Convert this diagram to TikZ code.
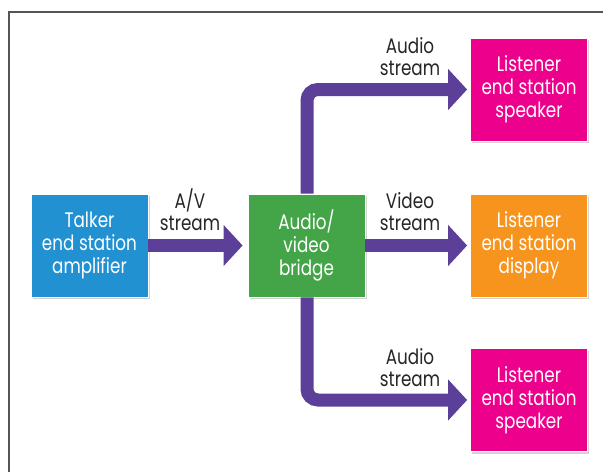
\documentclass[tikz,border=0pt]{standalone}
\usepackage{fontspec}
\setmainfont{Poppins}[FakeStretch=0.8]
\usetikzlibrary{arrows.meta,shadows}
\definecolor{cblue}{HTML}{2191D1}
\definecolor{cgreen}{HTML}{43A547}
\definecolor{corange}{HTML}{F7941D}
\definecolor{cmag}{HTML}{EC008C}
\definecolor{cpurple}{HTML}{5B3F98}
\definecolor{cframe}{HTML}{555555}
\begin{document}
\begin{tikzpicture}[x=1pt,y=-1pt,
  box/.style={draw=white,line width=0.8pt,text=white,align=center,
    minimum width=117pt,minimum height=103pt,inner sep=0pt,
    font=\fontsize{21}{23}\selectfont,
    drop shadow={opacity=0.35,shadow xshift=1.5pt,shadow yshift=-2pt}},
  flow/.style={draw=cpurple,line width=13pt,rounded corners=11pt,
    -{Triangle[width=40pt,length=19pt]}},
  lbl/.style={align=center,text=black!85,inner sep=0pt,
    font=\fontsize{21}{22}\selectfont}]
\useasboundingbox (0,0) rectangle (603,472);
\fill[white] (0,0) rectangle (603,472);
\draw[cframe,line width=1.3pt] (9,472) -- (9,12) -- (603,12);

\node[box,fill=cblue] (talker) at (89.5,245.5) {Talker\\end station\\amplifier};
\node[box,fill=cgreen] (bridge) at (306.5,245.5) {Audio/\\video\\bridge};
\node[box,fill=cmag] (spk1) at (529,89.5) {Listener\\end station\\speaker};
\node[box,fill=corange] (disp) at (529,245.5) {Listener\\end station\\display};
\node[box,fill=cmag] (spk2) at (529,400) {Listener\\end station\\speaker};

\coordinate (t1) at (307,89.5);
\coordinate (t2) at (307,400);
\draw[flow] (bridge.north -| t1) -- (t1) -- ([xshift=-3pt]spk1.west);
\draw[flow] (bridge.south -| t2) -- (t2) -- ([xshift=-3pt]spk2.west);
\draw[flow] (talker.east) -- ([xshift=-5pt]bridge.west);
\draw[flow] (bridge.east) -- ([xshift=-3pt]disp.west);

\node[lbl] (l1) at (410,57) {Audio\\stream};
\node[lbl] (l2) at (190,210) {A/V\\stream};
\node[lbl] (l3) at (410,212) {Video\\stream};
\node[lbl] (l4) at (410,368) {Audio\\stream};
\end{tikzpicture}
\end{document}
